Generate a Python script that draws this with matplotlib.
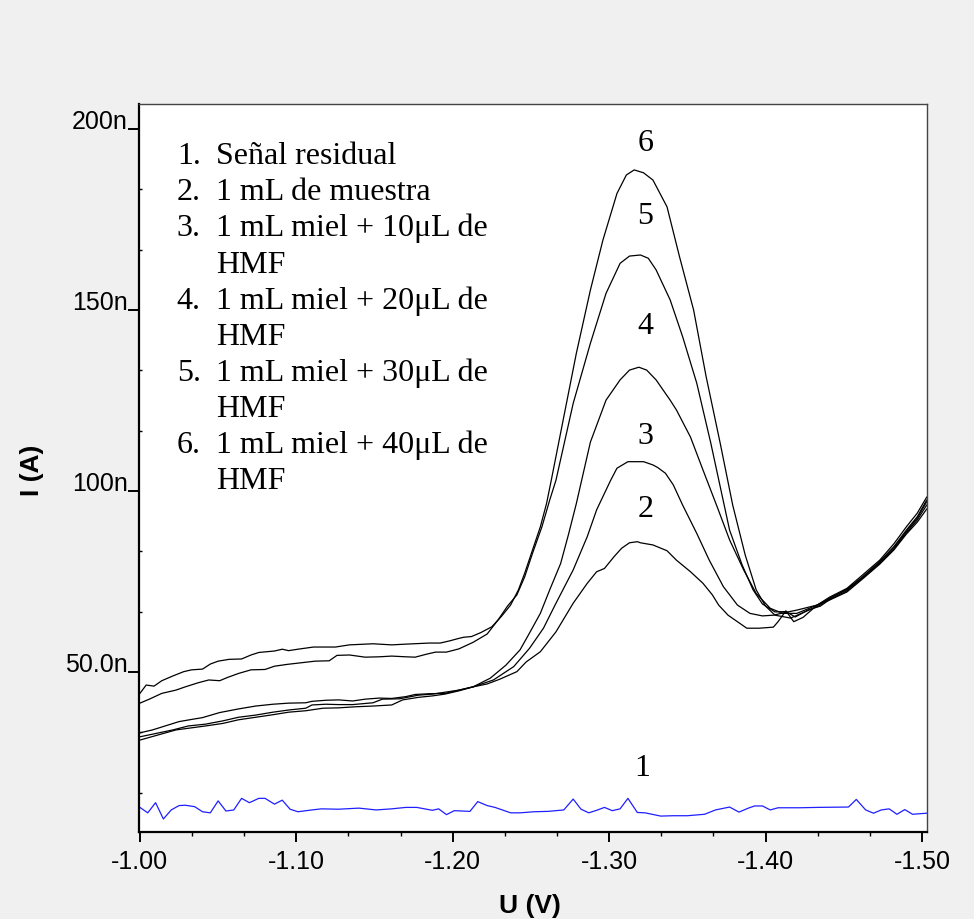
import matplotlib
matplotlib.use("Agg")
import matplotlib.pyplot as plt
from matplotlib.ticker import AutoMinorLocator

plt.rcParams['font.family'] = 'Liberation Sans'
plt.rcParams['axes.unicode_minus'] = False

# potential (V) and current (nA)
# curve 1: residual signal (blue)
v1 = [-1.000, -1.005, -1.010, -1.015, -1.020, -1.025, -1.029, -1.035, -1.040, -1.045,
      -1.050, -1.055, -1.060, -1.065, -1.070, -1.076, -1.080, -1.086, -1.091, -1.096,
      -1.101, -1.110, -1.116, -1.127, -1.140, -1.151, -1.161, -1.170, -1.177, -1.187,
      -1.191, -1.196, -1.201, -1.211, -1.216, -1.222, -1.227, -1.237, -1.243, -1.252,
      -1.261, -1.271, -1.277, -1.282, -1.287, -1.292, -1.297, -1.302, -1.307, -1.312,
      -1.318, -1.323, -1.333, -1.341, -1.350, -1.361, -1.368, -1.377, -1.383, -1.389,
      -1.393, -1.398, -1.403, -1.408, -1.422, -1.433, -1.453, -1.458, -1.464, -1.469,
      -1.474, -1.479, -1.484, -1.489, -1.494, -1.503]
i1 = [12.6, 11.1, 13.9, 9.4, 11.9, 13.1, 13.2, 12.8, 11.4, 11.1,
      14.4, 11.6, 11.9, 15.1, 13.9, 15.1, 15.1, 13.5, 14.6, 12.1,
      11.4, 11.9, 12.2, 12.1, 12.4, 11.9, 12.2, 12.6, 12.6, 11.8,
      12.2, 10.6, 11.7, 11.5, 14.2, 13.1, 12.6, 11.1, 11.1, 11.4,
      11.5, 11.9, 14.9, 12.1, 11.1, 11.8, 12.6, 11.7, 12.2, 15.1,
      11.2, 11.1, 10.2, 10.3, 10.3, 10.7, 11.9, 12.7, 11.3, 12.4,
      13.0, 13.0, 11.9, 12.5, 12.5, 12.6, 12.7, 14.8, 11.9, 11.0,
      11.9, 12.2, 10.7, 12.0, 10.7, 11.0]

# curve 2: 1 mL de muestra
v2 = [-1.000, -1.023, -1.042, -1.053, -1.063, -1.074, -1.085, -1.095, -1.106, -1.117,
      -1.127, -1.138, -1.149, -1.161, -1.168, -1.178, -1.187, -1.195, -1.204, -1.213,
      -1.222, -1.230, -1.241, -1.247, -1.256, -1.266, -1.277, -1.286, -1.292, -1.297,
      -1.303, -1.308, -1.313, -1.318, -1.320, -1.328, -1.337, -1.343, -1.352, -1.360,
      -1.366, -1.370, -1.376, -1.382, -1.388, -1.396, -1.405, -1.408, -1.413, -1.418,
      -1.424, -1.433, -1.441, -1.452, -1.462, -1.473, -1.482, -1.490, -1.497, -1.503]
i2 = [31.2, 34.0, 35.1, 35.8, 36.8, 37.5, 38.2, 38.9, 39.3, 40.0,
      40.1, 40.4, 40.6, 40.9, 42.3, 43.0, 43.4, 43.9, 44.8, 45.9,
      46.7, 48.0, 50.1, 52.8, 55.6, 61.1, 69.0, 74.5, 77.7, 78.6,
      81.8, 84.2, 85.7, 86.0, 85.7, 85.1, 83.5, 80.9, 77.7, 74.5,
      71.3, 68.5, 65.7, 63.9, 62.1, 62.1, 62.4, 63.9, 66.9, 63.9,
      65.1, 68.5, 70.3, 72.9, 76.1, 80.4, 84.4, 88.8, 92.5, 97.0]

# curve 3: + 10 uL HMF
v3 = [-1.000, -1.021, -1.031, -1.042, -1.053, -1.063, -1.074, -1.085, -1.095, -1.106,
      -1.110, -1.119, -1.127, -1.136, -1.149, -1.155, -1.166, -1.178, -1.187, -1.204,
      -1.213, -1.226, -1.239, -1.249, -1.258, -1.266, -1.277, -1.286, -1.292, -1.301,
      -1.305, -1.312, -1.322, -1.328, -1.331, -1.336, -1.341, -1.347, -1.356, -1.364,
      -1.373, -1.382, -1.390, -1.398, -1.405, -1.412, -1.420, -1.433, -1.441, -1.452,
      -1.462, -1.473, -1.482, -1.490, -1.497, -1.503]
i3 = [32.1, 34.0, 35.1, 35.6, 36.5, 37.5, 38.1, 38.9, 39.5, 40.0,
      40.9, 41.1, 41.0, 41.0, 41.5, 42.5, 42.6, 43.6, 43.9, 45.0,
      45.9, 47.8, 51.5, 56.5, 62.1, 69.0, 78.2, 87.4, 94.8, 103.0,
      106.3, 108.1, 108.1, 107.2, 106.5, 104.9, 101.7, 96.1, 88.3, 80.9,
      73.6, 68.5, 66.2, 65.5, 65.7, 66.4, 67.1, 68.5, 69.9, 72.1,
      75.7, 79.8, 83.7, 88.1, 91.4, 95.0]

# curve 4: + 20 uL HMF
v4 = [-1.000, -1.008, -1.025, -1.033, -1.040, -1.051, -1.063, -1.074, -1.085, -1.095,
      -1.106, -1.110, -1.119, -1.127, -1.136, -1.144, -1.153, -1.161, -1.170, -1.176,
      -1.185, -1.195, -1.204, -1.213, -1.224, -1.234, -1.243, -1.249, -1.256, -1.262,
      -1.269, -1.274, -1.279, -1.288, -1.298, -1.307, -1.313, -1.319, -1.324, -1.330,
      -1.339, -1.343, -1.352, -1.360, -1.369, -1.377, -1.386, -1.394, -1.403, -1.411,
      -1.420, -1.433, -1.441, -1.452, -1.462, -1.473, -1.482, -1.490, -1.497, -1.503]
i4 = [33.2, 34.0, 36.3, 36.9, 37.4, 38.8, 39.8, 40.6, 41.1, 41.4,
      41.5, 41.9, 42.2, 42.3, 42.0, 42.5, 42.8, 42.7, 43.2, 43.8,
      44.0, 44.1, 45.0, 45.9, 48.3, 51.9, 56.1, 60.7, 66.2, 72.7,
      80.0, 88.0, 96.5, 113.5, 125.1, 130.7, 133.4, 134.2, 133.4, 130.7,
      125.1, 122.4, 114.9, 105.8, 95.7, 86.5, 78.2, 71.7, 67.6, 66.2,
      66.2, 68.5, 70.7, 73.1, 76.8, 80.9, 85.4, 90.1, 93.9, 98.3]

# curve 5: + 30 uL HMF
v5 = [-1.000, -1.006, -1.014, -1.023, -1.029, -1.037, -1.044, -1.051, -1.056, -1.063,
      -1.071, -1.080, -1.086, -1.094, -1.104, -1.112, -1.121, -1.126, -1.134, -1.144,
      -1.153, -1.161, -1.170, -1.176, -1.183, -1.189, -1.196, -1.204, -1.213, -1.222,
      -1.229, -1.235, -1.241, -1.246, -1.251, -1.257, -1.262, -1.266, -1.277, -1.288,
      -1.298, -1.307, -1.313, -1.320, -1.325, -1.330, -1.339, -1.347, -1.356, -1.365,
      -1.371, -1.377, -1.385, -1.392, -1.398, -1.406, -1.413, -1.419, -1.427, -1.435,
      -1.441, -1.452, -1.462, -1.473, -1.482, -1.490, -1.497, -1.503]
i5 = [41.4, 42.5, 44.1, 45.0, 45.9, 47.0, 47.8, 47.6, 48.5, 49.6,
      50.6, 50.7, 51.6, 52.1, 52.6, 53.0, 53.1, 54.6, 54.7, 54.1,
      54.2, 54.4, 54.2, 54.1, 54.9, 55.5, 55.5, 56.4, 58.2, 60.5,
      64.4, 68.2, 71.3, 76.3, 82.8, 90.1, 97.5, 103.0, 124.2, 140.8,
      154.6, 162.9, 164.9, 165.2, 164.3, 161.1, 152.8, 142.6, 129.8, 113.2,
      101.2, 89.2, 79.6, 72.7, 68.8, 66.6, 66.7, 65.2, 67.1, 68.2,
      70.0, 72.4, 76.0, 80.0, 84.0, 88.4, 92.0, 96.1]

# curve 6: + 40 uL HMF
v6 = [-1.000, -1.004, -1.009, -1.014, -1.021, -1.028, -1.033, -1.040, -1.045, -1.050,
      -1.057, -1.065, -1.071, -1.076, -1.086, -1.091, -1.095, -1.101, -1.111, -1.125,
      -1.134, -1.149, -1.161, -1.170, -1.185, -1.192, -1.198, -1.204, -1.207, -1.212,
      -1.218, -1.225, -1.231, -1.237, -1.242, -1.246, -1.251, -1.256, -1.260, -1.263,
      -1.271, -1.279, -1.288, -1.296, -1.305, -1.311, -1.316, -1.322, -1.328, -1.337,
      -1.345, -1.354, -1.362, -1.371, -1.379, -1.387, -1.394, -1.400, -1.406, -1.416,
      -1.425, -1.435, -1.441, -1.452, -1.462, -1.473, -1.482, -1.490, -1.497, -1.503]
i6 = [44.1, 46.4, 46.1, 47.6, 48.9, 50.1, 50.6, 50.8, 52.2, 53.0,
      53.5, 53.6, 54.7, 55.4, 55.8, 56.3, 55.9, 56.3, 56.9, 56.9,
      57.5, 57.8, 57.5, 57.7, 58.0, 58.0, 58.6, 59.3, 59.6, 59.8,
      60.9, 62.5, 65.3, 68.5, 72.7, 77.3, 83.7, 90.1, 96.6, 103.0,
      120.5, 138.0, 155.5, 169.3, 182.2, 187.3, 188.7, 187.9, 185.9, 178.5,
      164.7, 150.0, 131.6, 113.2, 96.1, 82.3, 72.7, 68.2, 65.7, 64.9,
      66.6, 68.5, 70.4, 72.7, 76.3, 80.5, 84.6, 89.2, 92.9, 97.5]

# curve numbers written above each peak
peak_names = ['1', '2', '3', '4', '5', '6']
peak_name_v = [-1.321, -1.323, -1.323, -1.323, -1.323, -1.323]
peak_name_i = [23.4, 94.8, 115.0, 145.4, 175.8, 196.0]

legend_items = [
    ('1.', ['Señal residual']),
    ('2.', ['1 mL de muestra']),
    ('3.', ['1 mL miel + 10μL de', 'HMF']),
    ('4.', ['1 mL miel + 20μL de', 'HMF']),
    ('5.', ['1 mL miel + 30μL de', 'HMF']),
    ('6.', ['1 mL miel + 40μL de', 'HMF']),
]

xtick_vals = [-1.0, -1.1, -1.2, -1.3, -1.4, -1.5]
xtick_labels = ['-1.00', '-1.10', '-1.20', '-1.30', '-1.40', '-1.50']
ytick_vals = [50, 100, 150, 200]
ytick_labels = ['50.0n', '100n', '150n', '200n']

fig = plt.figure(figsize=(9.74, 9.19), dpi=100, facecolor='#f0f0f0')
ax = fig.add_axes([0.1427, 0.0952, 0.8087, 0.7916])
ax.set_facecolor('white')

for v, i in [(v2, i2), (v3, i3), (v4, i4), (v5, i5), (v6, i6)]:
    ax.plot(v, i, color='black', lw=0.9)
ax.plot(v1, i1, color='#1f1fff', lw=0.9)

ax.set_xlim(-0.9994, -1.5030)
ax.set_ylim(5.94, 206.9)

ax.set_xticks(xtick_vals, xtick_labels)
ax.set_yticks(ytick_vals, ytick_labels)
ax.xaxis.set_minor_locator(AutoMinorLocator(3))
ax.yaxis.set_minor_locator(AutoMinorLocator(3))
ax.tick_params(axis='x', which='major', direction='out', length=7.5, width=1.4, pad=6, labelsize=18)
ax.tick_params(axis='x', which='minor', direction='out', length=3, width=1)
ax.tick_params(axis='y', which='major', direction='out', length=8, width=1.4, pad=0, labelsize=18)
ax.tick_params(axis='y', which='minor', direction='in', length=2.5, width=1)
for lbl in ax.get_yticklabels():
    lbl.set_va('baseline')

for side in ['left', 'bottom']:
    ax.spines[side].set_linewidth(1.6)
for side in ['top', 'right']:
    ax.spines[side].set_linewidth(1.0)
    ax.spines[side].set_color('#444444')

ax.set_xlabel('U (V)', fontsize=19, fontweight='bold')
ax.xaxis.set_label_coords(0.496, -0.103)
ax.xaxis.label.set_va('center')
ax.set_ylabel('I (A)', fontsize=19, fontweight='bold')
ax.yaxis.set_label_coords(-0.136, 0.497)
ax.yaxis.label.set_va('center')

# numbered list in Times-like serif
serif = 'Liberation Serif'
y = 0.9175
step = 0.0497
for num, lines in legend_items:
    ax.text(0.0480, y, num, transform=ax.transAxes, family=serif, fontsize=23, va='baseline')
    for line in lines:
        ax.text(0.0978, y, line, transform=ax.transAxes, family=serif, fontsize=23, va='baseline')
        y -= step

for name, pv, pi in zip(peak_names, peak_name_v, peak_name_i):
    ax.text(pv, pi, name, family=serif, fontsize=23, ha='center', va='center')

fig.savefig('out.png', dpi=100, facecolor=fig.get_facecolor())
